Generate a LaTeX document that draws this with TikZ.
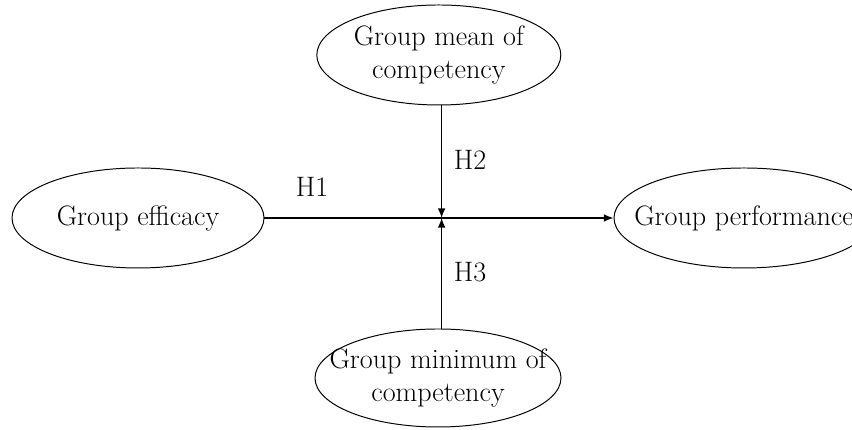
\documentclass[tikz,border=0pt]{standalone}
\usepackage{tikz}
\usetikzlibrary{arrows.meta, positioning, shapes.geometric}

\tikzset{
    construct/.style={ellipse, draw, line width=0.7pt, minimum width=6.2cm, minimum height=2.5cm,
        align=center, inner xsep=-1cm, inner ysep=0pt, font=\fontsize{20}{23}\selectfont},
    path/.style={line width=0.9pt, -{Latex[length=2.4mm, width=1.9mm]}},
    hlabel/.style={font=\fontsize{20}{23}\selectfont}
}

\begin{document}
\begin{tikzpicture}
    % canvas 852 x 430 px, 1px = 0.025cm
    \clip (0,0) rectangle (21.3,10.75);

    % Constructs
    \node[construct, minimum width=6.3cm] (efficacy) at (3.45,5.3) {Group efficacy};
    \node[construct, minimum width=6.5cm] (performance) at (18.6,5.3) {Group performance};
    \node[construct, minimum width=6.1cm] (mean) at (10.97,9.375) {Group mean of\\competency};
    \node[construct, minimum width=6.15cm, minimum height=2.45cm] (minimum) at (10.95,1.3) {Group minimum of\\competency};

    % Moderation point on the main path
    \coordinate (junction) at ([xshift=0.07cm]mean.south |- efficacy.east);

    % Paths
    \draw[path] (efficacy) -- (performance);
    \draw[path] (mean.south -| junction) -- (junction);
    \draw[path] (minimum.north -| junction) -- (junction);

    % Hypotheses
    \node[hlabel] (h1) at (7.8,6.075) {H1};
    \node[hlabel] (h2) at (11.75,6.75) {H2};
    \node[hlabel] (h3) at (11.75,3.95) {H3};
\end{tikzpicture}
\end{document}
